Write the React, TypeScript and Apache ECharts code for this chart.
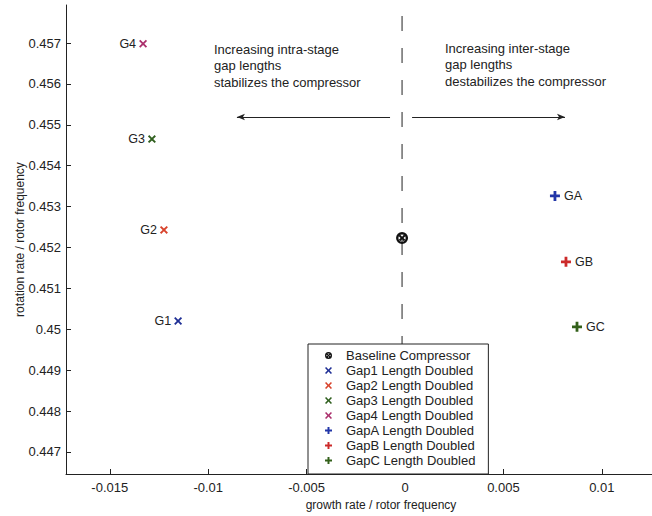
import React, { useEffect, useRef } from "react";
import * as echarts from "echarts";

// Axis ticks
const xTicks = [-0.015, -0.01, -0.005, 0, 0.005, 0.01];
const yTicks = [0.447, 0.448, 0.449, 0.45, 0.451, 0.452, 0.453, 0.454, 0.455, 0.456, 0.457];

// Axis limits
const xMin = -0.017226;
const xMax = 0.014787;
const yMin = 0.44646;
const yMax = 0.45793;

// [growth rate, rotation rate] normalised by rotor frequency
const baselinePoint = [-0.00015, 0.45223];
const gap1Point = [-0.01153, 0.4502];
const gap2Point = [-0.01225, 0.45243];
const gap3Point = [-0.01286, 0.45465];
const gap4Point = [-0.01331, 0.45698];
const gapAPoint = [0.00762, 0.45326];
const gapBPoint = [0.00818, 0.45165];
const gapCPoint = [0.00874, 0.45006];

const seriesNames = [
  "Baseline Compressor",
  "Gap1 Length Doubled",
  "Gap2 Length Doubled",
  "Gap3 Length Doubled",
  "Gap4 Length Doubled",
  "GapA Length Doubled",
  "GapB Length Doubled",
  "GapC Length Doubled",
];
const pointLabels = ["", "G1", "G2", "G3", "G4", "GA", "GB", "GC"];
const seriesPoints = [baselinePoint, gap1Point, gap2Point, gap3Point, gap4Point, gapAPoint, gapBPoint, gapCPoint];

// Annotation arrows, same rotation-rate level
const arrowY = 0.45519;
const leftArrow = [-0.00076, -0.00854];
const rightArrow = [0.00036, 0.00813];

const FONT = "'Liberation Sans', Arial, Helvetica, sans-serif";
const INK = "#222";

// Bold "x" and "+" markers and the circled cross of the baseline
const CROSS =
  "path://M0,1.6L1.6,0L5,3.4L8.4,0L10,1.6L6.6,5L10,8.4L8.4,10L5,6.6L1.6,10L0,8.4L3.4,5Z";
const PLUS =
  "path://M3.6,0L6.4,0L6.4,3.6L10,3.6L10,6.4L6.4,6.4L6.4,10L3.6,10L3.6,6.4L0,6.4L0,3.6L3.6,3.6Z";
const CIRCLED_CROSS =
  "path://M0,5A5,5 0 1,1 10,5A5,5 0 1,1 0,5Z" +
  "M2,5A3,3 0 1,0 8,5A3,3 0 1,0 2,5Z" +
  "M2.3,3.5L3.5,2.3L5,3.8L6.5,2.3L7.7,3.5L6.2,5L7.7,6.5L6.5,7.7L5,6.2L3.5,7.7L2.3,6.5L3.8,5Z";

const colors = ["#111111", "#1f2f95", "#d8432c", "#2f5f1e", "#ab2f6c", "#2236a8", "#cc2a2a", "#33601a"];
const symbols = [CIRCLED_CROSS, CROSS, CROSS, CROSS, CROSS, PLUS, PLUS, PLUS];
const symbolSizes = [12, 8, 8, 8, 8, 10, 10, 10];

// The axes run past the right edge of the 652px view, so the canvas is wider
const CANVAS_W = 700;
const CANVAS_H = 516;

export default function App() {
  const ref = useRef<HTMLDivElement>(null);

  useEffect(() => {
    if (!ref.current) return;
    const chart = echarts.init(ref.current, undefined, { renderer: "svg" });

    const series: any[] = seriesNames.map((name, i) => ({
      name,
      type: "scatter",
      data: [seriesPoints[i]],
      symbol: symbols[i],
      symbolSize: symbolSizes[i],
      itemStyle: { color: colors[i], opacity: 1 },
      z: 3,
      label: {
        show: pointLabels[i] !== "",
        formatter: pointLabels[i],
        position: i >= 5 ? "right" : "left",
        distance: i >= 5 ? 4 : 3,
        color: INK,
        fontFamily: FONT,
        fontSize: 12.5,
      },
    }));

    // dashed divider through the baseline growth rate
    series.push({
      name: "divider",
      type: "line",
      data: [
        [baselinePoint[0], yMin],
        [baselinePoint[0], yMax],
      ],
      symbol: "none",
      silent: true,
      z: 1,
      lineStyle: { color: INK, width: 1, type: [15, 17], dashOffset: 5 },
    });

    // arrows pointing away from the divider
    series.push({
      name: "arrows",
      type: "scatter",
      data: [],
      silent: true,
      markLine: {
        silent: true,
        animation: false,
        symbol: ["none", "arrow"],
        symbolSize: [5, 8],
        label: { show: false },
        lineStyle: { color: INK, width: 1, type: "solid" },
        data: [
          [{ coord: [leftArrow[0], arrowY] }, { coord: [leftArrow[1], arrowY] }],
          [{ coord: [rightArrow[0], arrowY] }, { coord: [rightArrow[1], arrowY] }],
        ],
      },
    });

    chart.setOption({
      animation: false,
      backgroundColor: "#ffffff",
      textStyle: { fontFamily: FONT },
      grid: { left: 66, top: 5, right: 4, bottom: 42, containLabel: false },
      xAxis: {
        type: "value",
        min: xMin,
        max: xMax,
        name: "growth rate / rotor frequency",
        nameLocation: "middle",
        nameGap: 25,
        nameMoveOverlap: false,
        nameTextStyle: { color: INK, fontSize: 12, fontFamily: FONT },
        axisLine: { show: true, onZero: false, lineStyle: { color: INK, width: 1 } },
        axisTick: { show: true, inside: true, length: 5, lineStyle: { color: INK }, customValues: xTicks },
        axisLabel: { color: INK, fontSize: 13, fontFamily: FONT, margin: 7, customValues: xTicks },
        splitLine: { show: false },
      },
      yAxis: {
        type: "value",
        min: yMin,
        max: yMax,
        name: "rotation rate / rotor frequency",
        nameLocation: "middle",
        nameGap: 40,
        nameMoveOverlap: false,
        nameTextStyle: { color: INK, fontSize: 12, fontFamily: FONT },
        axisLine: { show: true, onZero: false, lineStyle: { color: INK, width: 1 } },
        axisTick: { show: true, inside: true, length: 5, lineStyle: { color: INK }, customValues: yTicks },
        axisLabel: {
          color: INK,
          fontSize: 13,
          fontFamily: FONT,
          margin: 5,
          customValues: yTicks,
          formatter: (v: number) => String(+v.toFixed(3)),
        },
        splitLine: { show: false },
      },
      legend: {
        data: seriesNames,
        orient: "vertical",
        left: 308,
        top: 344,
        padding: [5, 13, 7, 17],
        itemWidth: 25,
        itemHeight: 7,
        itemGap: 2,
        backgroundColor: "#ffffff",
        borderColor: INK,
        borderWidth: 1,
        borderRadius: 0,
        selectedMode: false,
        textStyle: { color: INK, fontSize: 13, fontFamily: FONT, lineHeight: 13 },
        z: 10,
      },
      graphic: [
        {
          type: "text",
          left: 214,
          top: 41,
          z: 5,
          style: {
            text: "Increasing intra-stage\ngap lengths\nstabilizes the compressor",
            font: `13px ${FONT}`,
            lineHeight: 16.5,
            fill: INK,
          },
        },
        {
          type: "text",
          left: 445,
          top: 40,
          z: 5,
          style: {
            text: "Increasing inter-stage\ngap lengths\ndestabilizes the compressor",
            font: `13px ${FONT}`,
            lineHeight: 16.5,
            fill: INK,
          },
        },
      ],
      series,
    });

    return () => chart.dispose();
  }, []);

  return (
    <div
      ref={ref}
      style={{ position: "fixed", left: 0, top: 0, width: CANVAS_W, height: CANVAS_H }}
    />
  );
}
